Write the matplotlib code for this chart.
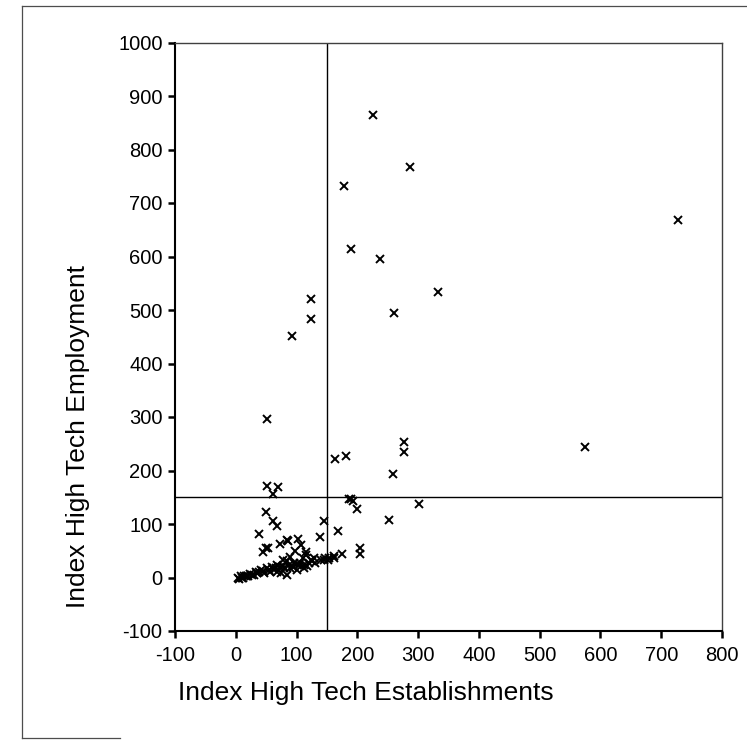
#!/usr/bin/env python3
"""Scatter of high tech employment index against establishments index."""

import matplotlib

matplotlib.use("Agg")
import matplotlib.pyplot as plt
from matplotlib.lines import Line2D

# Index values (establishments, employment)
establishments = [
    226, 286, 178, 728, 190, 237, 333, 124, 260, 124, 93, 51,
    574, 276, 276, 163, 182, 258,
    51, 69, 61, 186, 190, 193, 200, 301, 50, 61, 68, 145, 252, 169,
    39, 139, 103, 86, 73, 108, 49, 205, 205, 174, 162, 153, 145,
    45, 116, 98, 53,
    84, 147, 152, 161, 77, 85, 96, 104, 112, 121, 68, 60, 52,
    41, 33, 24, 16, 8, 3, 79, 90, 101, 112, 46, 57, 68,
    30, 19, 11, 85, 74, 123, 129, 110, 90, 115, 140,
    5, 12, 14, 20, 27, 35, 38, 44, 55, 62, 66, 72, 78, 88, 94,
    100, 106, 118, 125, 130,
]
employment = [
    865, 767, 731, 668, 614, 595, 534, 521, 495, 484, 452, 296,
    244, 254, 234, 221, 227, 194,
    171, 169, 156, 146, 147, 143, 128, 138, 122, 106, 97, 106, 107, 87,
    82, 76, 72, 69, 63, 60, 56, 56, 44, 43, 41, 37, 33,
    48, 48, 50, 55,
    70, 37, 33, 36, 33, 30, 27, 23, 23, 27, 23, 20, 17,
    14, 10, 6, 3, 2, 0, 17, 17, 14, 17, 8, 11, 11,
    5, 2, 0, 5, 8, 33, 36, 36, 39, 42, 33,
    -2, 0, 2, 3, 5, 8, 10, 12, 14, 15, 18, 20, 22, 24, 20,
    25, 28, 22, 30, 28,
]

x_ticks = [-100, 0, 100, 200, 300, 400, 500, 600, 700, 800]
y_ticks = [-100, 0, 100, 200, 300, 400, 500, 600, 700, 800, 900, 1000]
cutoff = 150

plt.rcParams["font.family"] = ["Liberation Sans", "DejaVu Sans"]
plt.rcParams["axes.unicode_minus"] = False

fig = plt.figure(figsize=(7.47, 7.49), dpi=100)
ax = fig.add_axes([175 / 747, 1 - 631 / 749, 547 / 747, 588.5 / 749])

ax.plot(
    establishments,
    employment,
    "x",
    color="black",
    markersize=5.5,
    markeredgewidth=1.4,
    zorder=3,
)

# Reference lines at the cut-off value
ax.axvline(cutoff, color="black", linewidth=1.0)
ax.axhline(cutoff, color="black", linewidth=1.0)

ax.set_xlim(-100, 800)
ax.set_ylim(-100, 1000)
ax.set_xticks(x_ticks)
ax.set_yticks(y_ticks)
ax.tick_params(
    direction="out", length=5, width=1.8, labelsize=14.5, pad=4, color="black"
)
ax.tick_params(axis="x", pad=6)
for side in ("left", "bottom"):
    ax.spines[side].set_linewidth(1.5)
for side in ("top", "right"):
    ax.spines[side].set_linewidth(1.0)
    ax.spines[side].set_color("0.25")

fig.text(
    366 / 747, 1 - 693 / 749, "Index High Tech Establishments",
    ha="center", va="center", fontsize=19,
)
fig.text(
    78 / 747, 1 - 437 / 749, "Index High Tech Employment",
    ha="center", va="center", rotation=90, fontsize=19,
)

# Frame of the scanned figure
frame = dict(color="0.3", linewidth=0.9, transform=fig.transFigure)
fig.add_artist(Line2D([22 / 747, 22 / 747], [1 - 6 / 749, 1 - 738 / 749], **frame))
fig.add_artist(Line2D([22 / 747, 1.0], [1 - 6 / 749, 1 - 6 / 749], **frame))
fig.add_artist(Line2D([22 / 747, 120 / 747], [1 - 738 / 749, 1 - 738 / 749], **frame))

fig.savefig("out.png", dpi=100)
